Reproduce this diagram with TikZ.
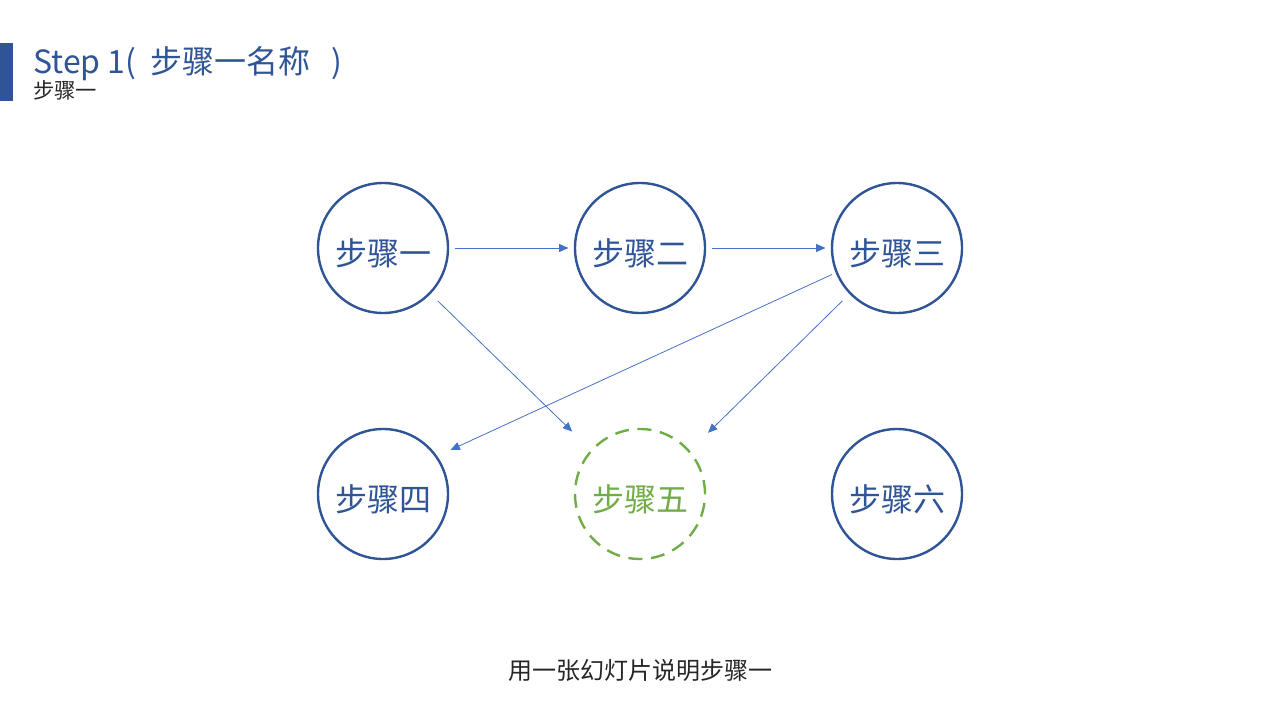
\documentclass[tikz,border=0pt]{standalone}
\usepackage{fontspec}
\setmainfont{Noto Sans CJK SC}
\usetikzlibrary{arrows.meta}
\definecolor{stepblue}{HTML}{2F5597}
\definecolor{linkblue}{HTML}{4472C4}
\definecolor{stepgreen}{HTML}{70AD47}
\definecolor{notegray}{HTML}{262626}
\begin{document}
\begin{tikzpicture}[x=0.75pt,y=-0.75pt,
  stepnode/.style={circle, draw=stepblue, line width=1.8pt, minimum size=97.5pt, inner sep=0pt, text=stepblue, text height=28pt, text depth=2pt, font=\fontsize{24}{28}\selectfont},
  stepdash/.style={stepnode, draw=stepgreen, text=stepgreen, dash pattern=on 10.5pt off 6.5pt},
  link/.style={draw=linkblue, line width=0.6pt, -{Triangle[length=7pt,width=6pt]}}]
\useasboundingbox (0,0) rectangle (1280,720);

% heading
\fill[stepblue] (0,43) rectangle (13,101);
\node[anchor=base west, inner sep=0pt, text=stepblue, font=\fontsize{24}{29}\selectfont] (title) at (33,74) {Step 1(\hspace{0.45em}步骤一名称\hspace{0.65em})};
\node[anchor=base west, inner sep=0pt, text=notegray, font=\fontsize{16}{19}\selectfont] (subtitle) at (33,99) {步骤一};

% steps
\node[stepnode] (s1) at (383,248) {步骤一};
\node[stepnode] (s2) at (640,248) {步骤二};
\node[stepnode] (s3) at (897,248) {步骤三};
\node[stepnode] (s4) at (383,494) {步骤四};
\node[stepdash] (s5) at (640,494) {步骤五};
\node[stepnode] (s6) at (897,494) {步骤六};

% links
\draw[link, shorten <=4.5pt, shorten >=4pt] (s1) -- (s2);
\draw[link, shorten <=4.5pt, shorten >=4pt] (s2) -- (s3);
\draw[link, shorten <=7.5pt, shorten >=19.5pt] (s1.-44) -- (s5.138);
\draw[link, shorten <=7.5pt, shorten >=19pt] (s3.224) -- (s5.41);
\draw[link, shorten <=3pt, shorten >=11pt] (s3.202) -- (s4.35);

\node[anchor=base, inner sep=0pt, text=notegray, font=\fontsize{18}{22}\selectfont] (note) at (640,679) {用一张幻灯片说明步骤一};
\end{tikzpicture}
\end{document}
